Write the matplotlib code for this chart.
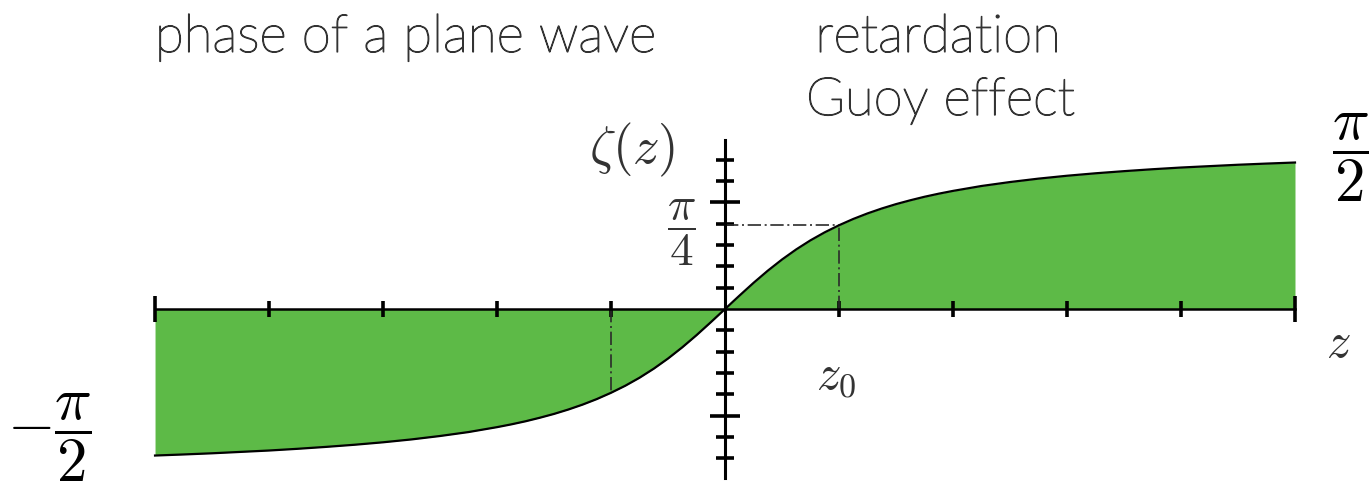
import numpy as np
import matplotlib
matplotlib.use("Agg")
import matplotlib.pyplot as plt
import matplotlib.patheffects as pe
from matplotlib.ticker import FixedLocator

plt.rcParams['mathtext.fontset'] = 'cm'

# Gouy phase zeta(z), z in units of the Rayleigh range z0
z = [-5.0, -4.75, -4.5, -4.25, -4.0, -3.75, -3.5, -3.25, -3.0, -2.75, -2.5,
     -2.25, -2.0, -1.875, -1.75, -1.625, -1.5, -1.375, -1.25, -1.125, -1.0,
     -0.875, -0.75, -0.625, -0.5, -0.375, -0.25, -0.125, 0.0,
     0.125, 0.25, 0.375, 0.5, 0.625, 0.75, 0.875, 1.0,
     1.125, 1.25, 1.375, 1.5, 1.625, 1.75, 1.875, 2.0,
     2.25, 2.5, 2.75, 3.0, 3.25, 3.5, 3.75, 4.0, 4.25, 4.5, 4.75, 5.0]
zeta = [-1.373, -1.363, -1.352, -1.339, -1.326, -1.310, -1.292, -1.272, -1.249, -1.222, -1.190,
        -1.153, -1.107, -1.081, -1.052, -1.019, -0.983, -0.942, -0.896, -0.844, -0.785,
        -0.719, -0.644, -0.559, -0.464, -0.359, -0.245, -0.124, 0.0,
        0.124, 0.245, 0.359, 0.464, 0.559, 0.644, 0.719, 0.785,
        0.844, 0.896, 0.942, 0.983, 1.019, 1.052, 1.081, 1.107,
        1.153, 1.190, 1.222, 1.249, 1.272, 1.292, 1.310, 1.326, 1.339, 1.352, 1.363, 1.373]

z0 = 1.0
zeta_z0 = 0.785   # pi/4
x_ticks_end = [-5, 5]
x_ticks = [-4, -3, -2, -1, 1, 2, 3, 4]
y_ticks_long = [-1.0, 1.0]
y_ticks = [-1.4, -1.2, -0.8, -0.6, -0.4, -0.2, 0.2, 0.4, 0.6, 0.8, 1.2, 1.4]

green = '#5dba47'
ink = '#2b2b2b'

fig = plt.figure(figsize=(13.7, 4.9), dpi=100)
ax = fig.add_axes([0, 0, 1, 1])
ax.set_xlim(-6.36, 5.658)
ax.set_ylim(-1.696, 2.896)
ax.patch.set_alpha(0)

ax.fill_between(z, zeta, 0, color=green, lw=0, zorder=1)
ax.plot(z, zeta, color='black', lw=1.6, zorder=3)

# dash-dot guides at +/- z0
dd = (0, (8, 2.2, 1.2, 2.2))
ax.plot([z0, z0], [0, zeta_z0], color=ink, lw=1.2, ls=dd, zorder=2)
ax.plot([0, z0], [zeta_z0, zeta_z0], color=ink, lw=1.2, ls=dd, zorder=2)
ax.plot([-z0, -z0], [0, -zeta_z0], color=ink, lw=1.2, ls=dd, zorder=2)

# axes through the origin
for s in ['top', 'right']:
    ax.spines[s].set_visible(False)
ax.spines['bottom'].set_position(('data', 0))
ax.spines['left'].set_position(('data', 0))
ax.spines['bottom'].set_bounds(-5, 5)
ax.spines['left'].set_bounds(-1.58, 1.58)
ax.spines['bottom'].set_linewidth(1.8)
ax.spines['left'].set_linewidth(2.2)
for s in ['bottom', 'left']:
    ax.spines[s].set_zorder(4)

ax.xaxis.set_major_locator(FixedLocator(x_ticks_end))
ax.xaxis.set_minor_locator(FixedLocator(x_ticks))
ax.yaxis.set_major_locator(FixedLocator(y_ticks_long))
ax.yaxis.set_minor_locator(FixedLocator(y_ticks))
ax.tick_params(axis='x', which='major', direction='inout', length=19, width=2.6)
ax.tick_params(axis='x', which='minor', direction='inout', length=12, width=2.6)
ax.tick_params(axis='y', which='major', direction='inout', length=22, width=2.6)
ax.tick_params(axis='y', which='minor', direction='inout', length=13, width=2.6)
ax.tick_params(labelbottom=False, labelleft=False)

# math labels
ax.text(-0.816, 1.49, r'$\zeta(z)$', fontsize=38, color='#333333', ha='center', va='center')
ax.text(-0.386, 0.72, r'$\dfrac{\pi}{4}$', fontsize=34, color='#333333', ha='center', va='center')
ax.text(0.974, -0.619, r'$z_0$', fontsize=35, color='#333333', ha='center', va='center')
ax.text(5.377, -0.319, r'$z$', fontsize=35, color='#333333', ha='center', va='center')
ax.text(5.49, 1.415, r'$\dfrac{\pi}{2}$', fontsize=44, color='black', ha='center', va='center')
ax.text(-5.93, -1.209, r'$-\dfrac{\pi}{2}$', fontsize=44, color='black', ha='center', va='center')

# annotations: light sans, slightly thickened
thick = [pe.withStroke(linewidth=0.9, foreground='#333333')]
lab = dict(family='Lato', weight='light', fontsize=38, color='#333333', va='baseline',
           path_effects=thick)
ax.text(-5.0, 2.409, 'phase of a plane wave', ha='left', **lab)
ax.text(1.87, 2.409, 'retardation', ha='center', **lab)
ax.text(1.89, 1.818, 'Guoy effect', ha='center', **lab)

fig.savefig('out.png', dpi=100)
